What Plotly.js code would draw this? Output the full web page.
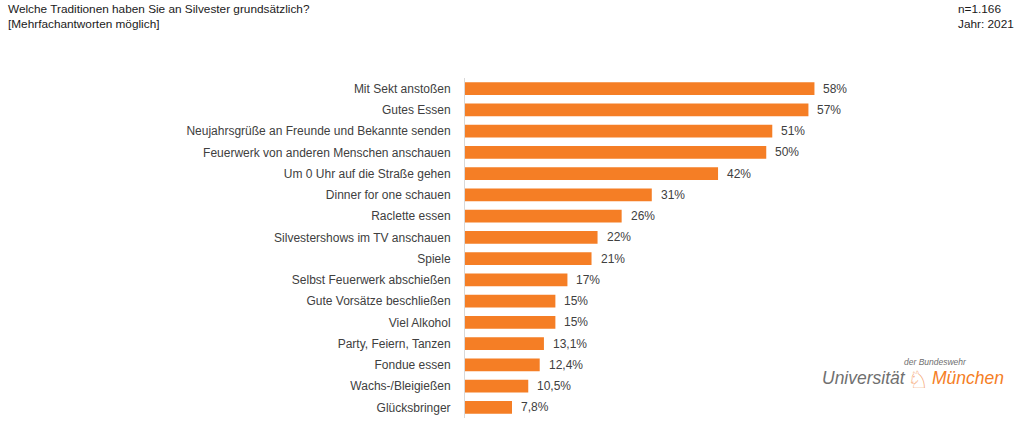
<!DOCTYPE html>
<html>
<head>
<meta charset="utf-8">
<script src="https://cdn.plot.ly/plotly-3.0.1.min.js"></script>
<style>html,body{margin:0;padding:0;background:#fff;}#chart{width:1024px;height:426px;}</style>
</head>
<body>
<div id="chart"></div>
<script>
const categories = [
  "Mit Sekt anstoßen",
  "Gutes Essen",
  "Neujahrsgrüße an Freunde und Bekannte senden",
  "Feuerwerk von anderen Menschen anschauen",
  "Um 0 Uhr auf die Straße gehen",
  "Dinner for one schauen",
  "Raclette essen",
  "Silvestershows im TV anschauen",
  "Spiele",
  "Selbst Feuerwerk abschießen",
  "Gute Vorsätze beschließen",
  "Viel Alkohol",
  "Party, Feiern, Tanzen",
  "Fondue essen",
  "Wachs-/Bleigießen",
  "Glücksbringer"
];
const values = [58, 57, 51, 50, 42, 31, 26, 22, 21, 17, 15, 15, 13.1, 12.4, 10.5, 7.8];
const valueLabels = ["58%", "57%", "51%", "50%", "42%", "31%", "26%", "22%", "21%", "17%", "15%", "15%", "13,1%", "12,4%", "10,5%", "7,8%"];

const titleLines = ["Welche Traditionen haben Sie an Silvester grundsätzlich?", "[Mehrfachantworten möglich]"];
const sampleLines = ["n=1.166", "Jahr: 2021"];

const FONT = "Liberation Sans, Arial, sans-serif";
// pixel helpers for paper coords (plot area: x 465..947, y 78..418)
const PL = 465, PW = 482, PB = 418, PH = 340;
const px = v => (v - PL) / PW;
const py = v => (PB - v) / PH;

const trace = {
  type: "bar",
  orientation: "h",
  y: categories,
  x: values,
  marker: {color: "#F57E25", line: {width: 0}},
  width: 0.6,
  hoverinfo: "skip"
};

const annotations = [];
values.forEach((v, i) => {
  annotations.push({
    x: v, y: categories[i], xref: "x", yref: "y",
    text: valueLabels[i], showarrow: false,
    xanchor: "left", yanchor: "middle", xshift: 7,
    font: {family: FONT, size: 12, color: "#404040"}
  });
});
titleLines.forEach((t, i) => {
  annotations.push({
    text: t, xref: "paper", yref: "paper",
    x: px(6), y: py(9 + i * 15.5), xanchor: "left", yanchor: "middle",
    showarrow: false, font: {family: FONT, size: 11.8, color: "#1a1a1a"}
  });
});
sampleLines.forEach((t, i) => {
  annotations.push({
    text: t, xref: "paper", yref: "paper",
    x: px(956), y: py(9 + i * 15.5), xanchor: "left", yanchor: "middle",
    showarrow: false, font: {family: FONT, size: 11.8, color: "#1a1a1a"}
  });
});
annotations.push(
  {
    text: "<i>Universität</i>", xref: "paper", yref: "paper",
    x: px(820), y: py(378), xanchor: "left", yanchor: "middle",
    showarrow: false, font: {family: FONT, size: 17.5, color: "#707070"}
  },
  {
    text: "<i>München</i>", xref: "paper", yref: "paper",
    x: px(930), y: py(378), xanchor: "left", yanchor: "middle",
    showarrow: false, font: {family: FONT, size: 17.5, color: "#F57E25"}
  },
  {
    text: "<i>der Bundeswehr</i>", xref: "paper", yref: "paper",
    x: px(902), y: py(362), xanchor: "left", yanchor: "middle",
    showarrow: false, font: {family: FONT, size: 8.5, color: "#707070"}
  },
  {
    text: "♘", xref: "paper", yref: "paper",
    x: px(918), y: py(380), xanchor: "center", yanchor: "middle",
    showarrow: false, font: {family: "DejaVu Sans", size: 24, color: "#F5A26A"}
  }
);

const layout = {
  width: 1024,
  height: 426,
  paper_bgcolor: "#ffffff",
  plot_bgcolor: "#ffffff",
  margin: {l: 465, r: 77, t: 78, b: 8},
  showlegend: false,
  font: {family: FONT, size: 12, color: "#404040"},
  xaxis: {
    range: [0, 80],
    visible: false,
    showgrid: false,
    zeroline: false,
    fixedrange: true
  },
  yaxis: {
    type: "category",
    autorange: "reversed",
    showgrid: false,
    zeroline: false,
    showline: true,
    linecolor: "#d9d9d9",
    linewidth: 1,
    ticks: "",
    ticklabelstandoff: 11,
    tickfont: {family: FONT, size: 12, color: "#404040"},
    fixedrange: true
  },
  annotations: annotations
};

Plotly.newPlot("chart", [trace], layout, {displayModeBar: false, staticPlot: true});
</script>
</body>
</html>
